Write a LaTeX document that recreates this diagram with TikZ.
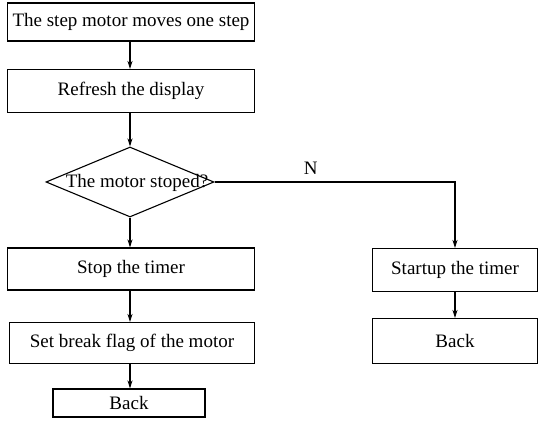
\documentclass[tikz,border=0pt]{standalone}
\usepackage{fontspec}
\setmainfont{Liberation Serif}
\usetikzlibrary{shapes.geometric,arrows.meta}

\begin{document}
\begin{tikzpicture}[x=1pt,y=-1pt,line width=1.1pt,>={Stealth[length=8pt,width=5pt]},
    every node/.style={font=\fontsize{19}{22}\selectfont},
    box/.style={draw,rectangle,inner sep=0pt},
    ask/.style={draw,diamond,inner sep=0pt}]
            \useasboundingbox (0,0) rectangle (539,425);
            \node[box,minimum width=247pt,minimum height=38pt] (s1) at (131,22) {The step motor moves one step};
            \node[box,minimum width=247pt,minimum height=43pt] (s2) at (131,91) {Refresh the display};
            \node[ask,minimum width=168pt,minimum height=70pt] (d) at (130,182) {};
            \node (dt) at (137,183) {The motor stoped?};
            \node[box,minimum width=247pt,minimum height=42pt] (s3) at (131,269) {Stop the timer};
            \node[box,minimum width=245pt,minimum height=41pt] (s4) at (132,343) {Set break flag of the motor};
            \node[box,minimum width=152pt,minimum height=28pt] (s5) at (129,403) {Back};
            \node[box,minimum width=165pt,minimum height=43pt] (r1) at (455,270) {Startup the timer};
            \node[box,minimum width=165pt,minimum height=45pt] (r2) at (455,341) {Back};
              \draw[->] (s1.south -| d.north) -- (s2.north -| d.north);
              \draw[->] (s2.south -| d.north) -- (d.north);
              \draw[->] (d.south) -- (s3.north -| d.south);
              \draw[->] (s3.south -| d.south) -- (s4.north -| d.south);
              \draw[->] (s4.south -| d.south) -- (s5.north -| d.south);
              \draw[->] (d.east) -| (r1.north) node[pos=0.2,above=4pt] (n) {N};
              \draw[->] (r1) -- (r2);
            \end{tikzpicture}
\end{document}
